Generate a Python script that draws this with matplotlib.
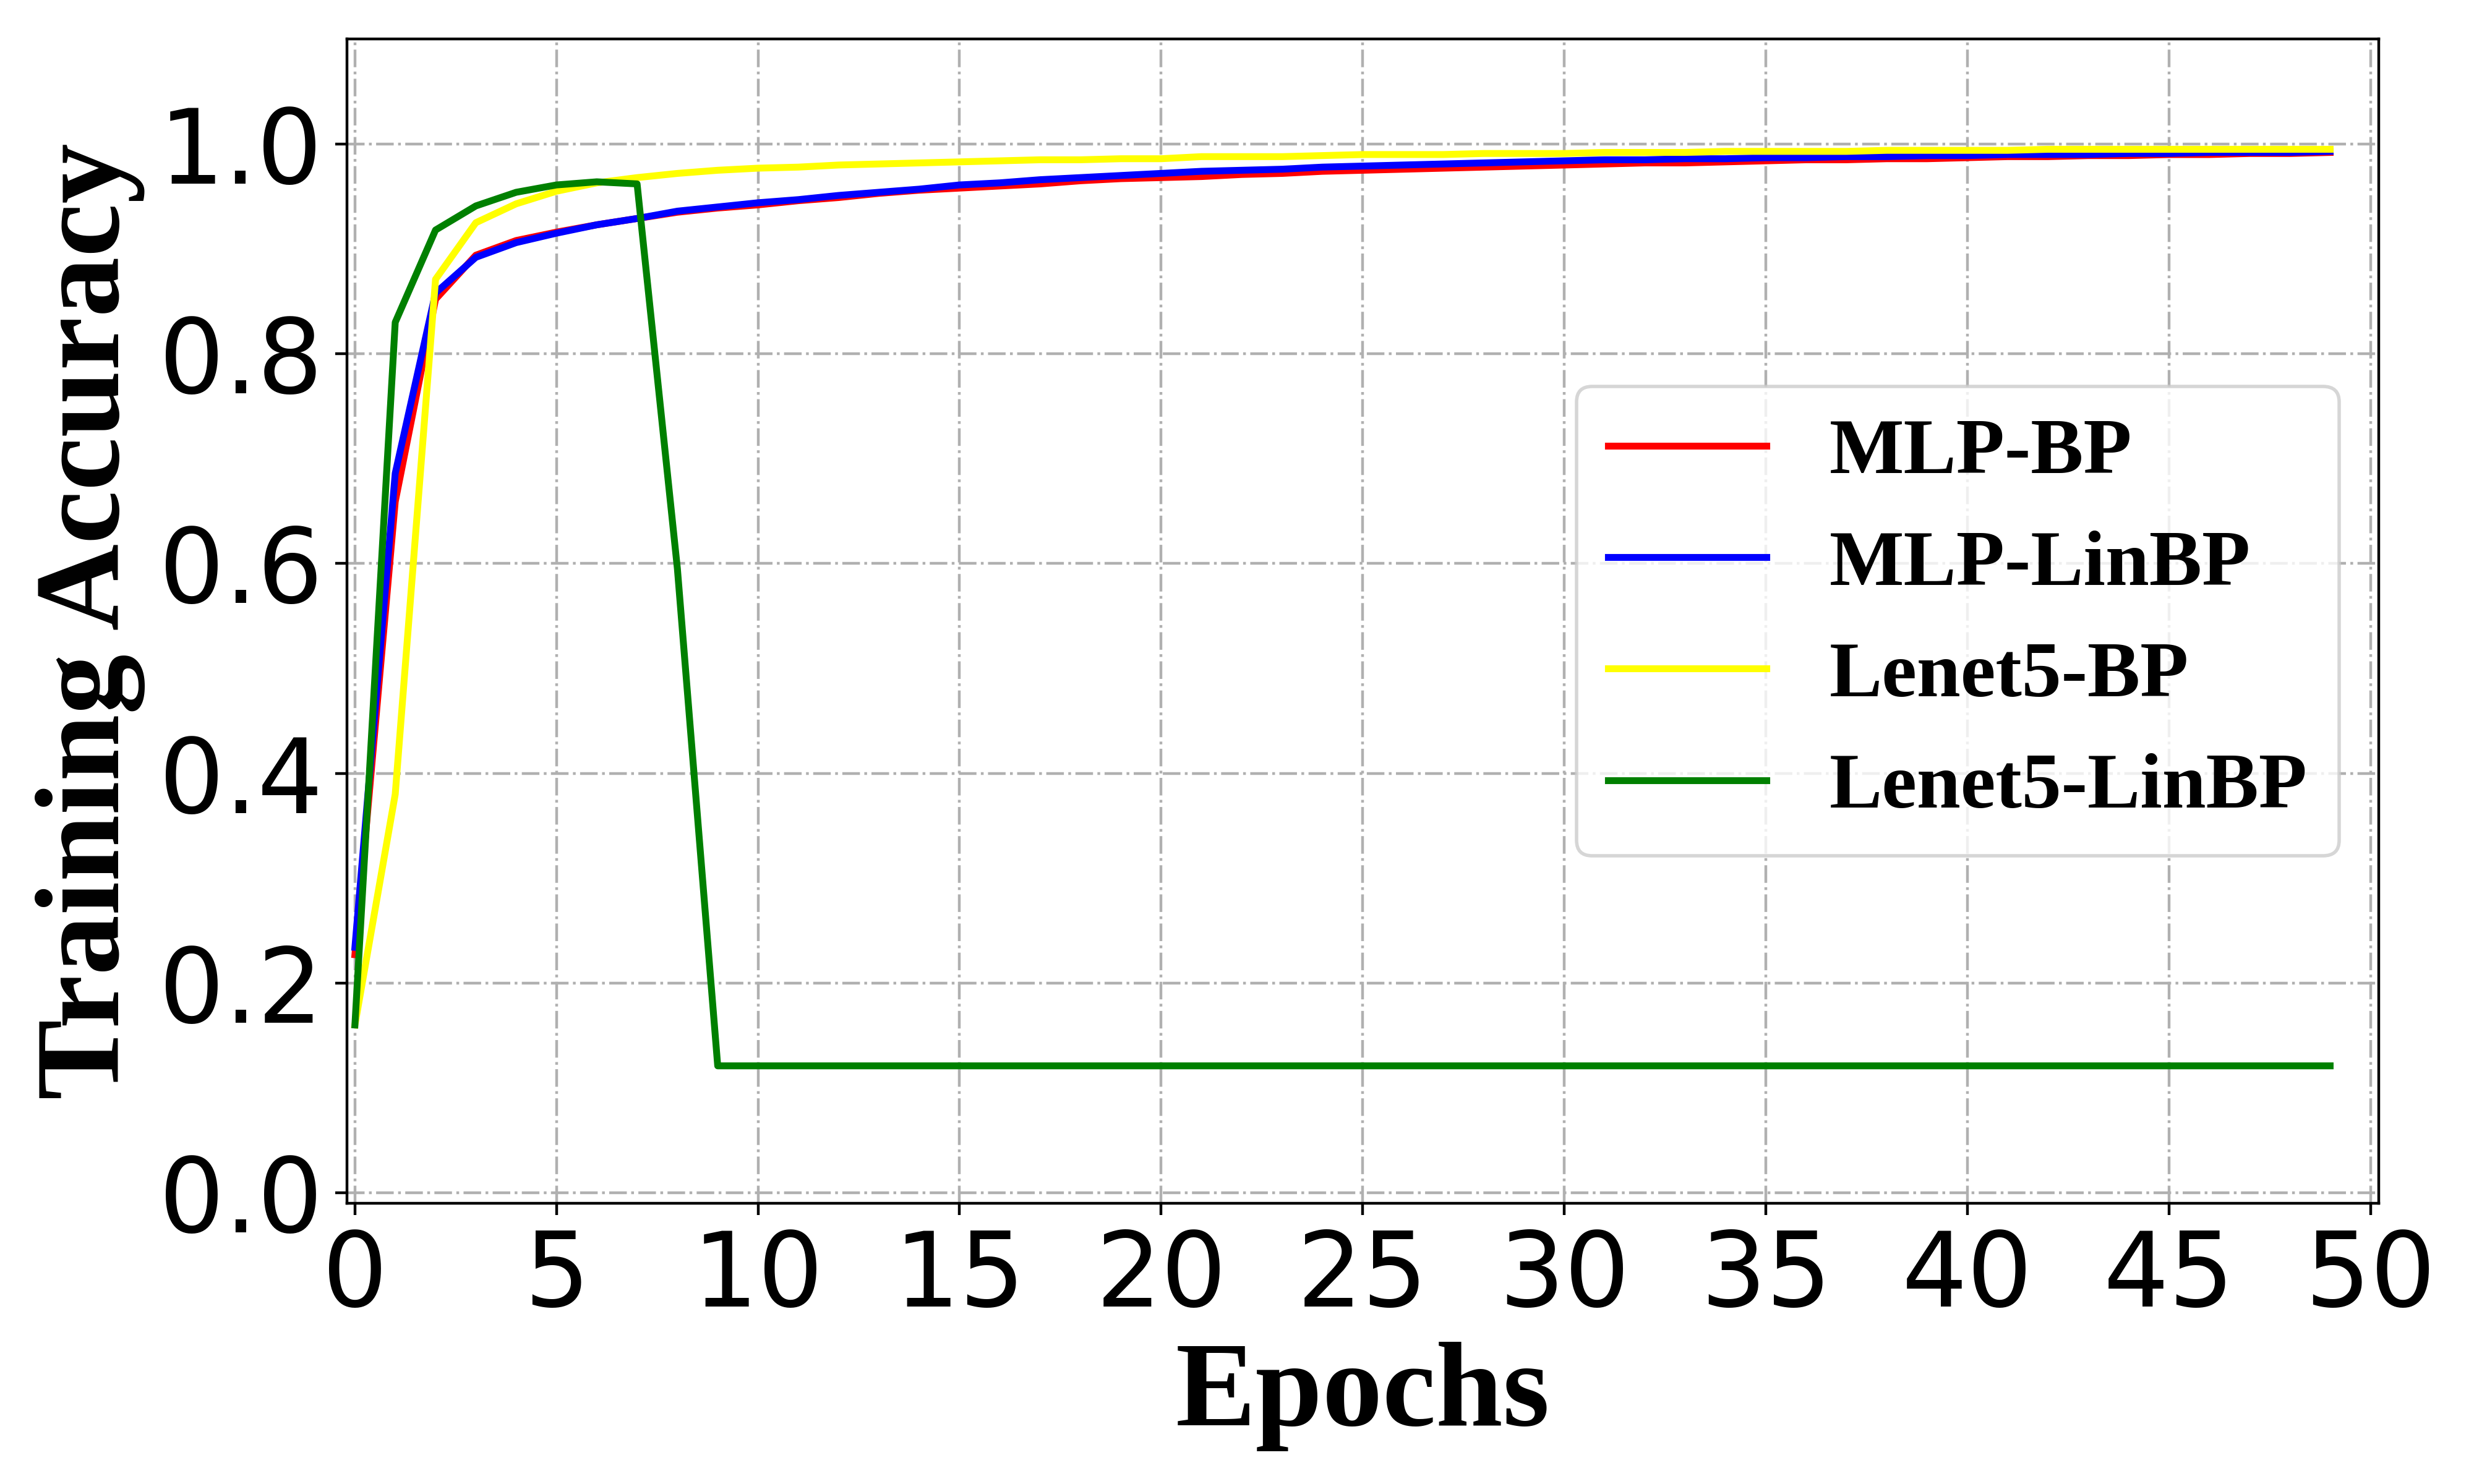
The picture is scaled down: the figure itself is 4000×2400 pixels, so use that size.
import matplotlib
matplotlib.use("Agg")
import matplotlib.pyplot as plt
import numpy as np

epochs = np.arange(50)

mlp_bp = [0.227, 0.659, 0.852, 0.894, 0.908, 0.916, 0.923, 0.929, 0.935, 0.939,
          0.942, 0.946, 0.949, 0.953, 0.956, 0.958, 0.960, 0.962, 0.965, 0.967,
          0.968, 0.969, 0.971, 0.972, 0.974, 0.975, 0.976, 0.977, 0.978, 0.979,
          0.980, 0.981, 0.982, 0.982, 0.983, 0.984, 0.985, 0.985, 0.986, 0.986,
          0.987, 0.988, 0.988, 0.989, 0.989, 0.990, 0.990, 0.991, 0.991, 0.992]

mlp_linbp = [0.234, 0.686, 0.858, 0.892, 0.906, 0.915, 0.923, 0.929, 0.936, 0.940,
             0.944, 0.947, 0.951, 0.954, 0.957, 0.961, 0.963, 0.966, 0.968, 0.970,
             0.972, 0.974, 0.975, 0.976, 0.978, 0.979, 0.980, 0.981, 0.982, 0.983,
             0.984, 0.985, 0.985, 0.986, 0.986, 0.987, 0.987, 0.988, 0.988, 0.989,
             0.989, 0.990, 0.990, 0.990, 0.991, 0.991, 0.992, 0.992, 0.992, 0.993]

lenet5_bp = [0.160, 0.380, 0.871, 0.925, 0.943, 0.955, 0.963, 0.968, 0.972, 0.975,
             0.977, 0.978, 0.980, 0.981, 0.982, 0.983, 0.984, 0.985, 0.985, 0.986,
             0.986, 0.988, 0.988, 0.988, 0.989, 0.990, 0.990, 0.990, 0.991, 0.991,
             0.991, 0.992, 0.992, 0.992, 0.993, 0.993, 0.993, 0.993, 0.994, 0.994,
             0.994, 0.994, 0.995, 0.995, 0.995, 0.995, 0.995, 0.995, 0.995, 0.995]

lenet5_linbp = [0.160, 0.830, 0.918, 0.941, 0.954, 0.961, 0.964, 0.962, 0.595, 0.121,
                0.121, 0.121, 0.121, 0.121, 0.121, 0.121, 0.121, 0.121, 0.121, 0.121,
                0.121, 0.121, 0.121, 0.121, 0.121, 0.121, 0.121, 0.121, 0.121, 0.121,
                0.121, 0.121, 0.121, 0.121, 0.121, 0.121, 0.121, 0.121, 0.121, 0.121,
                0.121, 0.121, 0.121, 0.121, 0.121, 0.121, 0.121, 0.121, 0.121, 0.121]

series = [
    ("MLP-BP", mlp_bp, "red"),
    ("MLP-LinBP", mlp_linbp, "blue"),
    ("Lenet5-BP", lenet5_bp, "yellow"),
    ("Lenet5-LinBP", lenet5_linbp, "green"),
]

serif_bold = {"family": "Liberation Serif", "weight": "bold"}

fig, ax = plt.subplots(figsize=(10, 6), dpi=400)
fig.subplots_adjust(left=0.1402, right=0.9614, top=0.9736, bottom=0.1892)

for label, values, color in series:
    ax.plot(epochs, values, color=color, linewidth=2, label=label)

ax.set_xlim(-0.2, 50.2)
ax.set_ylim(-0.01, 1.1)
ax.set_xticks(np.arange(0, 51, 5))
ax.set_yticks(np.arange(0, 1.01, 0.2))
ax.tick_params(labelsize=30)
ax.grid(True, linestyle="-.")

ax.set_xlabel("Epochs", fontsize=35, **serif_bold)
ax.set_ylabel("Training Accuracy", fontsize=35, **serif_bold)

ax.legend(loc="center right", prop={"family": "Liberation Serif", "weight": "bold", "size": 23})

fig.savefig("out.png", dpi=400)
plt.close(fig)
